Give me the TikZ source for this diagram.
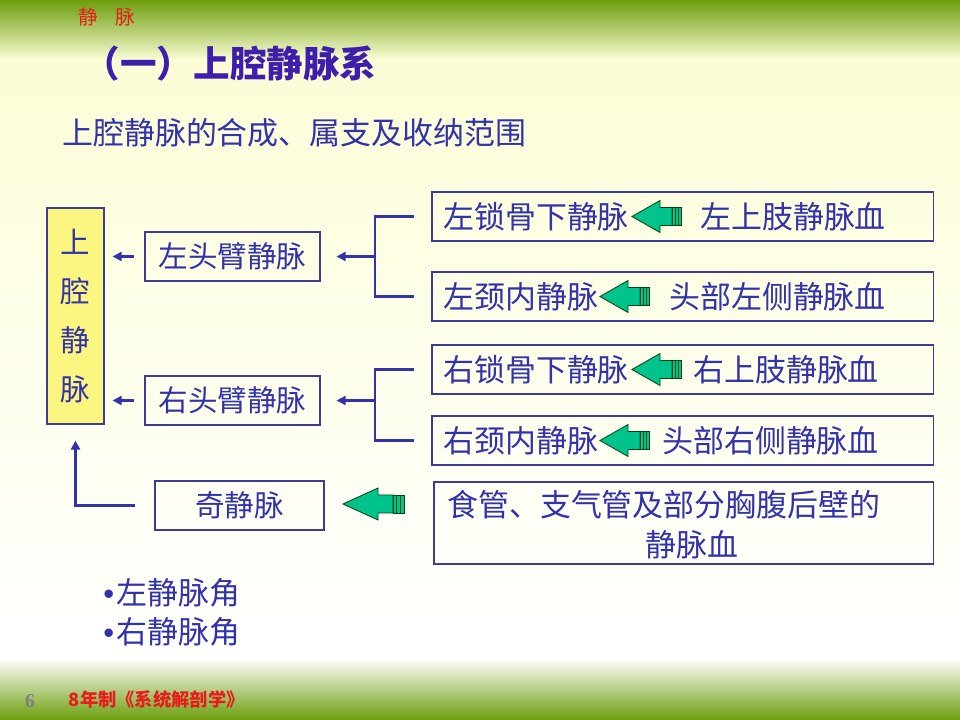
\documentclass[tikz,border=0pt]{standalone}
\usepackage{fontspec}
\setmainfont{Noto Sans CJK SC}
\newfontfamily\latinfont{Liberation Sans}
\newfontfamily\serffont{Liberation Serif}
\usetikzlibrary{arrows.meta}

\definecolor{veinblue}{RGB}{50,50,170}
\definecolor{boxline}{RGB}{60,60,150}
\definecolor{titleblue}{RGB}{62,30,172}
\definecolor{hdgreen}{RGB}{108,158,12}
\definecolor{paleyel}{RGB}{252,253,214}
\definecolor{svcyel}{RGB}{251,246,128}
\definecolor{arrgreen}{RGB}{0,196,140}
\definecolor{arrline}{RGB}{0,70,20}
\definecolor{hdred}{RGB}{232,28,28}
\definecolor{pggray}{RGB}{128,128,128}

\begin{document}
\begin{tikzpicture}[x=0.025cm,y=-0.025cm]
		\tikzstyle{box}=[draw=boxline,
			line width=0.8pt,
			text=veinblue,
			inner sep=0pt,
			font=\fontsize{21pt}{25pt}\selectfont,
			];
		\tikzstyle{txt}=[text=veinblue,
			inner sep=0pt,
			font=\fontsize{22pt}{26pt}\selectfont,
			];
		\tikzstyle{link}=[draw=veinblue,
			line width=1.5pt,
			-{Triangle[length=6.5pt,width=6.5pt]},
			];
		\tikzstyle{brace}=[draw=veinblue,
			line width=2.1pt,
			];
		\tikzset{veinarrow/.pic={
			\draw[fill=arrgreen,draw=arrline,line width=0.6pt] (0,0) -- (28,-16) -- (28,-9) -- (40,-9) -- (40,9) -- (28,9) -- (28,16) -- cycle;
			\draw[fill=arrgreen,draw=arrline,line width=0.6pt] (40,-9) rectangle (49,9);
			\draw[arrline,line width=0.6pt] (43,-9) -- (43,9) (46,-9) -- (46,9);
		}}

		% background
		\useasboundingbox (0,0) rectangle (960,720);
		\fill[white] (0,0) rectangle (960,720);
		\shade[top color=hdgreen,bottom color=paleyel] (0,0) rectangle (960,60);
		\shade[top color=paleyel,bottom color=white] (0,60) rectangle (960,650);
		\shade[top color=white,bottom color=hdgreen] (0,658) rectangle (960,720);

		\node [text=hdred,font=\fontsize{14pt}{16pt}\selectfont] (hdr) at (107,17) {静\hspace{0.9em}脉};
		\node [text=titleblue,font=\fontsize{26pt}{30pt}\selectfont\bfseries] (title) at (230,64) {（一）上腔静脉系};
		\node [txt,anchor=west] (sub) at (62,133) {上腔静脉的合成、属支及收纳范围};

		\node [box,fill=svcyel,align=center,font=\fontsize{21pt}{35pt}\selectfont] at (75.5,316) [minimum width=1.425cm,minimum height=5.4cm] (svc) {上\\腔\\静\\脉};

		\node [box] at (232.5,256.5) [minimum width=4.375cm,minimum height=1.225cm] (lbr) {左头臂静脉};
		\node [box] at (232.5,400.5) [minimum width=4.375cm,minimum height=1.225cm] (rbr) {右头臂静脉};
		\node [box] at (239.5,505.5) [minimum width=4.225cm,minimum height=1.225cm] (azy) {奇静脉};

		\node [box] at (682.5,216.5) [minimum width=12.525cm,minimum height=1.225cm] (lsub) {};
		\node [txt,anchor=west] at (443,216.5) (lsubn) {左锁骨下静脉};
		\pic (la) at (632,216.5) {veinarrow};
		\node [txt,anchor=west] at (700,216.5) (lsubs) {左上肢静脉血};

		\node [box] at (682.5,296.5) [minimum width=12.525cm,minimum height=1.225cm] (ljug) {};
		\node [txt,anchor=west] at (443,296.5) (ljugn) {左颈内静脉};
		\pic (lb) at (600,296.5) {veinarrow};
		\node [txt,anchor=west] at (669,296.5) (ljugs) {头部左侧静脉血};

		\node [box] at (682.5,369.5) [minimum width=12.525cm,minimum height=1.225cm] (rsub) {};
		\node [txt,anchor=west] at (443,369.5) (rsubn) {右锁骨下静脉};
		\pic (ra) at (632,369.5) {veinarrow};
		\node [txt,anchor=west] at (693,369.5) (rsubs) {右上肢静脉血};

		\node [box] at (682.5,440.5) [minimum width=12.525cm,minimum height=1.225cm] (rjug) {};
		\node [txt,anchor=west] at (443,440.5) (rjugn) {右颈内静脉};
		\pic (rb) at (600,440.5) {veinarrow};
		\node [txt,anchor=west] at (662,440.5) (rjugs) {头部右侧静脉血};

		\node [box] at (683.5,523) [minimum width=12.475cm,minimum height=2.05cm] (eso) {};
		\node [txt,anchor=west] at (447,505) (eso1) {食管、支气管及部分胸腹后壁的};
		\node [txt] at (692,545) (eso2) {静脉血};
		\pic [xscale=1.25] (ea) at (343,504) {veinarrow};

		% brackets and arrows
		\coordinate (lj) at (375,256.5);
		\coordinate (rj) at (375,400.5);
		\draw [brace] ([xshift=-0.425cm]lsub.west) -| (lj) |- ([xshift=-0.425cm]ljug.west);
		\draw [brace] ([xshift=-0.425cm]rsub.west) -| (rj) |- ([xshift=-0.425cm]rjug.west);
		\draw [link,shorten >=0.4cm] (lj) -- (lbr.east);
		\draw [link,shorten >=0.4cm] (rj) -- (rbr.east);
		\draw [link,shorten <=0.25cm,shorten >=0.2cm] (lbr.west) -- (svc.east |- lbr.west);
		\draw [link,shorten <=0.25cm,shorten >=0.2cm] (rbr.west) -- (svc.east |- rbr.west);
		\draw [link,line width=2.1pt,shorten <=0.475cm,shorten >=0.4cm] (azy.west) -| (svc.south);

		\node [txt,anchor=west] at (103,593) (lang) {{\latinfont •}\hspace{2pt}左静脉角};
		\node [txt,anchor=west] at (103,632) (rang) {{\latinfont •}\hspace{2pt}右静脉角};

		\node [text=pggray,font=\serffont\fontsize{14pt}{16pt}\selectfont\bfseries] at (30,701) (pgno) {6};
		\node [text=hdred,font=\fontsize{13pt}{15pt}\selectfont\bfseries,anchor=west] at (64,700) (book) {8年制《系统解剖学》};
	\end{tikzpicture}
\end{document}
